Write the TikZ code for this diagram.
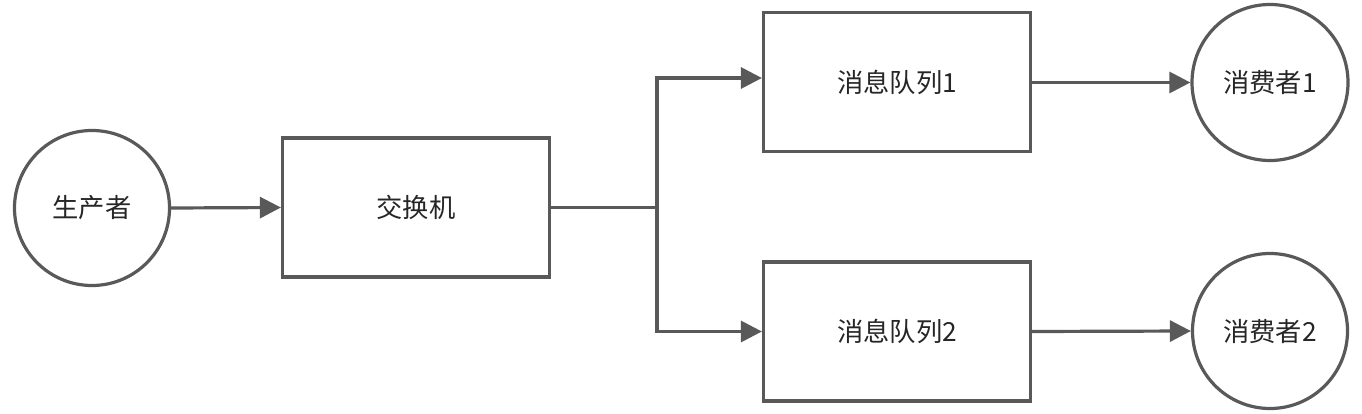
\documentclass[tikz,border=0pt]{standalone}
\usepackage{fontspec}
\newfontfamily\cjk{Noto Sans CJK SC}
\usetikzlibrary{arrows.meta}
\definecolor{linegray}{HTML}{595959}
\definecolor{txt}{HTML}{262626}
\tikzset{
  base/.style={draw=linegray, line width=3.2pt, text=txt, font=\cjk\fontsize{26.3}{30}\selectfont, inner sep=0pt},
  circ/.style={base, circle, minimum size=155pt},
  boxnode/.style={base, rectangle, minimum width=267pt, minimum height=139pt},
  conn/.style={draw=linegray, line width=3.2pt, line join=miter, -{Triangle[length=21pt,width=21pt]}},
  plain/.style={draw=linegray, line width=3.2pt}
}
\begin{document}
\begin{tikzpicture}[x=1pt,y=-1pt]
\useasboundingbox (0,0) rectangle (1362,414);
\node[circ] (prod) at (92,208) {生产者};
\node[boxnode] (ex) at (416,207.5) {交换机};
\node[boxnode] (q1) at (897,82) {消息队列1};
\node[boxnode] (q2) at (897,331.5) {消息队列2};
\node[circ, minimum size=156pt] (c1) at (1270,82.5) {消费者1};
\node[circ] (c2) at (1270,331) {消费者2};
\coordinate (br) at (657,207.5);
\draw[conn] (prod.east) -- (ex.west);
\draw[plain] (ex.east) -- (br);
\draw[conn] (br) |- ([yshift=4pt]q1.west);
\draw[conn] (br) |- (q2.west);
\draw[conn] (q1.east |- c1.west) -- (c1.west);
\draw[conn] (q2.east) -- (c2.west);
\end{tikzpicture}
\end{document}
